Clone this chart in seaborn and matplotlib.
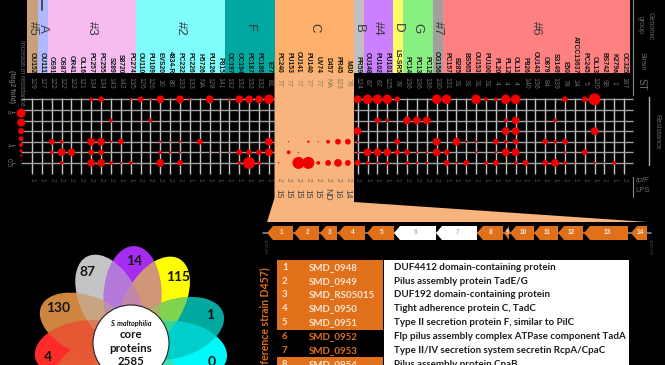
import math
import matplotlib
matplotlib.use("Agg")
import matplotlib.pyplot as plt
import pandas as pd
import seaborn as sns
from matplotlib.patches import Ellipse, Circle, Rectangle, Polygon

sns.set_theme(style="white")
plt.rcParams['font.family'] = ['Liberation Sans', 'DejaVu Sans']

# ---------- data ----------
strains = ["OU152","OU111","OS91","OS87","OR41","OL16","PC257","PC255","S289","S8720","PC274",
           "OU110","PU109","EVS20","4834-R","PC232","PC226","H5726","PU126","P815",
           "OC197","OC194","PC187","PC186","E77",
           "PC240","PU153","OU141","PU140","UV74","D457","PR45","M30",
           "PR59","OU148","PU102","PU101","LS-SR5","PC14","PC13","PC12","OG156",
           "PC157","B285","BS565","OU153","PU100","PL20","PL12","OL11","P826","OU143","O879",
           "S3149","E50","ATCC13637","PC245","OL13","BS742","K279a","OC325"]
st_values = ["129","127","122","122","122","121","134","134","143","142","135",
             "126","126","10","80","133","133","NA","128","141",
             "132","132","132","132","81",
             "77","77","77","77","77","NA","123","76",
             "124","87","87","125","78","136","136","136","130",
             "131","31","31","31","31","4","4","4","140","136","84","139","78","14","5","120","98","1","187"]
rpff_values = [1,1,2,2,2,2,2,2,2,1,1,2,2,2,2,1,1,1,1,1,1,1,1,1,1,
               2,2,2,2,2,2,2,2,
               2,1,1,1,1,2,2,2,2,
               1,1,1,1,1,1,1,1,1,1,1,1,1,1,1,1,1,1,2]
lps_values = ["15","15","15","15","15","ND","16","14"]

group_names = ["#5","A","#3","#2","F","C","B","#4","D","G","#7","#6"]
group_edges = [27,38,48,136,225,274.5,354,363.5,392.7,402.7,432.7,442.7,630]
group_colors = ["#c9a07c","#b0b8ff","#f6bcf0","#7ffcfc","#00a8a0","#fdb06a","#c0c0c0",
                "#cc80ff","#ffff66","#88f080","#a0a0a0","#ff8080"]

row0 = [(6,8),(7,16),(10,4),(11,16),(12,4),(13,32),(14,2),(15,32),(16,4),(18,32),(20,4),(21,32),(22,32),(23,32),(24,64),
        (33,32),(34,64),(35,64),(36,64),(37,16),(41,64),(42,64),(45,64),(46,8),(47,8),(48,64),(49,64),(54,16),(56,16),(57,128)]
row2 = [(8,8),(11,2),(12,8),(34,2),(35,16),(36,8),(38,32),(39,32),(40,32),(48,8),(49,32),(53,8)]
row3 = [(33,32),(48,32),(49,32),(57,32)]
row4 = [(2,16),(3,8),(6,32),(7,32),(8,4),(9,16),(13,4),(14,2),(15,4),(17,16),(24,32),
        (26,2),(28,4),(29,2),(30,8),(31,16),(32,16),(33,4),(37,16),(41,32),(43,32),(44,4),(45,4),(47,16),(48,8),(49,16),
        (52,16),(53,8),(54,16)]
row5 = [(2,8),(3,32),(4,32),(6,16),(7,16),(13,8),(14,4),(15,4),(18,2),(19,2),(20,2),(21,16),(22,16),(23,16),(24,32),
        (26,8),(27,2),(33,4),(34,32),(35,32),(36,32),(37,16),(38,16),(39,4),(40,4),(41,32),(42,16),(45,4),(47,4),(48,32),(49,32),
        (54,4),(56,16)]
row6 = [(2,2),(3,8),(6,32),(7,32),(8,8),(9,4),(10,8),(13,32),(15,16),(21,8),(22,128),(23,8),
        (25,2),(27,128),(28,128),(29,8),(30,16),(31,32),(32,16),(33,16),(34,8),(35,4),(36,8),
        (38,8),(39,4),(40,4),(42,16),(43,4),(44,16),(46,8),(47,16),(49,8),(50,16),
        (52,16),(53,32),(54,8),(55,2),(57,4),(58,2),(59,8)]
matrix_rows = {0: row0, 2: row2, 3: row3, 4: row4, 5: row5, 6: row6}
fold_diam_px = {128: 12, 64: 9.5, 32: 7.8, 16: 5.8, 8: 3.8, 4: 2.4, 2: 1.3}

legend_row = [1.3, 2.2, 3.0, 3.72, 4.3, 4.86, 5.3, 5.75]
legend_diam_px = [9, 8, 6.2, 5, 4, 3, 2.2, 1.4]

gene_ids = list(range(1, 15))
gene_start = [267,294,320,338,367,394,436,477,504,510,534,558,584,631]
gene_end = [293,319,337,365,394,436,477,503,509,534,558,583,628,647]
white_genes = [6, 7]

table_ids = [1,2,3,4,5,6,7,8]
table_locus = ["SMD_0948","SMD_0949","SMD_RS05015","SMD_0950","SMD_0951","SMD_0952","SMD_0953","SMD_0954"]
table_desc = ["DUF4412 domain-containing protein","Pilus assembly protein TadE/G",
              "DUF192 domain-containing protein","Tight adherence protein C, TadC",
              "Type II secretion protein F, similar to PilC",
              "Flp pilus assembly complex ATPase component TadA",
              "Type II/IV secretion system secretin RcpA/CpaC","Pilus assembly protein CpaB"]

petal_angle = [-62,-35,250,215,188,158,117,88,60,18,-9]
petal_color = ["#70d070","#b090f0","#f08040","#d08840","#ff2a2a","#cd853f","#c4c4c4","#a52cf0","#ffff00","#00a8a0","#00f8f8"]
petal_value = ["","","","","4","130","87","14","115","1","0"]
petal_label_xy = [None,None,None,None,(48,357),(58,308),(87,272),(134,261),(178,277),(210,315),(212,362)]

# ---------- layout ----------
W, H = 665, 365
fig = plt.figure(figsize=(6.65, 3.65), dpi=100, facecolor="black")
ax = fig.add_axes([0, 0, 1, 1], facecolor="black")
ax.set_xlim(0, W); ax.set_ylim(H, 0); ax.axis("off")

ORANGE = "#e0701a"
DIM = "#6a6a6a"
BODY = ['Lato', 'DejaVu Sans']

# group bands
for n, c, a, b in zip(group_names, group_colors, group_edges[:-1], group_edges[1:]):
    ax.add_patch(Rectangle((a, 0), b - a, 73, fc=c, ec="none", zorder=1))
    ax.text((a + b) / 2, 28, n, rotation=270, ha="center", va="center", fontsize=9.5, color="#3c3c3c", zorder=5)
ax.plot([42, 42], [0, 10], color="#333333", lw=1.2, zorder=5)

# orange panel and funnel
PANEL = "#f8b47c"
ax.add_patch(Polygon([(274.5, 73), (354, 73), (354, 202), (648, 222), (267, 222), (274.5, 198)],
                     fc=PANEL, ec="none", zorder=1))

X0, DX = 32, 9.87
for i, s in enumerate(strains):
    x = X0 + DX * i
    ax.text(x, 73, s, rotation=270, ha="center", va="bottom", fontsize=4.9, color="#141414",
            fontweight="bold", zorder=5, clip_on=True)
    ax.text(x, 83, st_values[i], rotation=270, ha="center", va="center", fontsize=5,
            color=DIM if not 25 <= i <= 32 else "#8a7560", zorder=5)
    ax.text(x, 180, str(rpff_values[i]), rotation=270, ha="center", va="center", fontsize=4.8,
            color="#505050" if not 25 <= i <= 32 else "#7c6a58", zorder=5)
for k, v in enumerate(lps_values):
    ax.text(X0 + DX * (25 + k), 194, v, rotation=270, ha="center", va="center", fontsize=6.2, color="#444444", zorder=5)

# side labels
ax.text(21.5, 40, "Increase in resistance", rotation=270, ha="center", va="top", fontsize=4.9, color=DIM)
ax.text(11, 70, "(log2 fold)", rotation=270, ha="center", va="top", fontsize=4.9, color=DIM, fontweight="bold")
for lab, y in [("8", 112), ("4", 145), ("0.5", 163)]:
    ax.text(8, y, lab, rotation=270, ha="center", va="center", fontsize=4.8, color=DIM)
    ax.plot([12, 15], [y, y], color=DIM, lw=0.6)
ax.text(650, 26, "Genomic", rotation=270, ha="center", va="center", fontsize=5, color=DIM)
ax.text(640, 25, "group", rotation=270, ha="center", va="center", fontsize=5, color=DIM)
ax.text(642, 61, "Strain", rotation=270, ha="center", va="center", fontsize=5, color=DIM)
ax.text(642, 84, "ST", rotation=270, ha="center", va="center", fontsize=7, color=DIM)
ax.text(657, 132, "Resistance", rotation=270, ha="center", va="center", fontsize=5.2, color=DIM)
ax.text(643, 181, "rpfF", style="italic", ha="center", va="center", fontsize=5.6, color=DIM)
ax.text(643, 191, "LPS", ha="center", va="center", fontsize=5.6, color=DIM)
ax.plot([633, 633], [0, 95], color="#8a8a8a", lw=0.8)
ax.plot([649, 649], [97, 165], color="#b0b0b0", lw=1)
ax.plot([633, 633], [177, 197], color="#8a8a8a", lw=0.8)

# gene map
ax.plot([263, 651], [233, 233], color="#7b8c98", lw=1.2, zorder=2)
for g, a, b in zip(gene_ids, gene_start, gene_end):
    head = min(6, b - a)
    white = g in white_genes
    ax.add_patch(Polygon([(a, 233), (a + head, 226), (b, 226), (b, 240), (a + head, 240)],
                         fc="white" if white else ORANGE, ec="none", zorder=3))
    ax.text((a + b) / 2 + 1, 233, str(g), ha="center", va="center", fontsize=4.8, fontweight="bold",
            color="#d8b090" if white else "#f4e4d8", zorder=4)
ax.text(265, 247, "1037125", rotation=270, ha="center", va="center", fontsize=3, color="#505050")
ax.text(650, 247, "1047734", rotation=270, ha="center", va="center", fontsize=3, color="#505050")

# table
T0, RH = 260.3, 13.85
ax.add_patch(Rectangle((384, T0), 245, H - T0, fc="white", ec="none", zorder=1))
for k, (i, loc, d) in enumerate(zip(table_ids, table_locus, table_desc)):
    y = T0 + RH * k
    dark = i in white_genes
    if not dark:
        ax.add_patch(Rectangle((277, y), 106, RH + 0.2, fc=ORANGE, ec="none", zorder=1))
    col = ORANGE if dark else "#fbe6d4"
    ax.text(282, y + RH / 2, str(i), family=BODY, fontsize=7.0, fontweight="bold", color=col, ha="left", va="center", zorder=3)
    ax.text(309, y + RH / 2, loc, family=BODY, fontsize=7.0, fontweight="bold", color=col, ha="left", va="center", zorder=3)
    ax.text(394, y + RH / 2, d, family=BODY, fontsize=7.0, fontweight="bold", color="#1c1c1c", ha="left", va="center", zorder=3)
ax.text(265, 267, "tad locus (reference strain D457)", family=BODY, rotation=90, ha="center", va="top",
        fontsize=7.6, fontweight="bold", color=ORANGE, clip_on=True)

# flower: opaque petals, neighbouring overlaps tinted as a half mix
CX, CY = 131, 343
petals = []
for ang, c in zip(petal_angle, petal_color):
    r = math.radians(ang)
    centre = (CX + 47 * math.cos(r), CY - 47 * math.sin(r))
    p = Ellipse(centre, 100, 58, angle=-ang, fc=c, ec="none", zorder=2)
    ax.add_patch(p)
    petals.append((p, centre, ang, c))
for (p0, centre0, ang0, c0), (p1, _, _, _) in zip(petals[:-1], petals[1:]):
    mix = Ellipse(centre0, 100, 58, angle=-ang0, fc=c0, ec="none", alpha=0.5, zorder=2.5)
    ax.add_patch(mix)
    mix.set_clip_path(p1)
for v, xy in zip(petal_value, petal_label_xy):
    if xy:
        ax.text(xy[0], xy[1], v, family=BODY, fontsize=10, fontweight="bold", color="#141414", ha="center", va="center", zorder=6)
ax.add_patch(Circle((CX, CY), 38, fc="white", ec="#222222", lw=0.8, zorder=5))
ax.text(CX, 323.5, "S. maltophilia", family=BODY, style="italic", fontweight="bold", fontsize=5.2, color="#141414", ha="center", va="center", zorder=6)
for txt, y in [("core", 335), ("proteins", 349), ("2585", 361.5)]:
    ax.text(CX, y, txt, family=BODY, fontweight="bold", fontsize=8.3, color="#141414", ha="center", va="center", zorder=6)

# resistance matrix: column index / row index axes
axm = fig.add_axes([0, 0, 1, 1], facecolor="none")
Y0, DY = 99.3, 10.6
axm.set_xlim(-X0 / DX, (W - X0) / DX)
axm.set_ylim((H - Y0) / DY, -Y0 / DY)
axm.axis("off")

left_cols = range(0, 25)
right_cols = range(33, 61)
axm.vlines(list(left_cols) + list(right_cols), -0.08, 7.0, color="#c4c4c4", lw=1.0, zorder=1)
for r in range(7):
    axm.hlines(r, -1.1, 24.6, color="#a2a2a2", lw=1.0, zorder=1)
    axm.hlines(r, 32.6, 60.9, color="#a2a2a2", lw=1.0, zorder=1)

records = [(c, r, f) for r, row in matrix_rows.items() for c, f in row]
df = pd.DataFrame(records, columns=["col", "row", "fold"])
to_s = lambda d: (d * 0.72) ** 2
sns.scatterplot(data=df, x="col", y="row", size="fold",
                sizes={k: to_s(v) for k, v in fold_diam_px.items()},
                color="#f00000", linewidth=0, legend=False, ax=axm, zorder=3)
df_leg = pd.DataFrame({"col": [-1.1] * len(legend_row), "row": legend_row, "d": legend_diam_px})
sns.scatterplot(data=df_leg, x="col", y="row", size="d",
                sizes={d: to_s(d) for d in legend_diam_px},
                color="#f00000", linewidth=0, legend=False, ax=axm, zorder=3)
axm.set_xlabel(""); axm.set_ylabel("")

fig.savefig("out.png", dpi=100, facecolor="black")
